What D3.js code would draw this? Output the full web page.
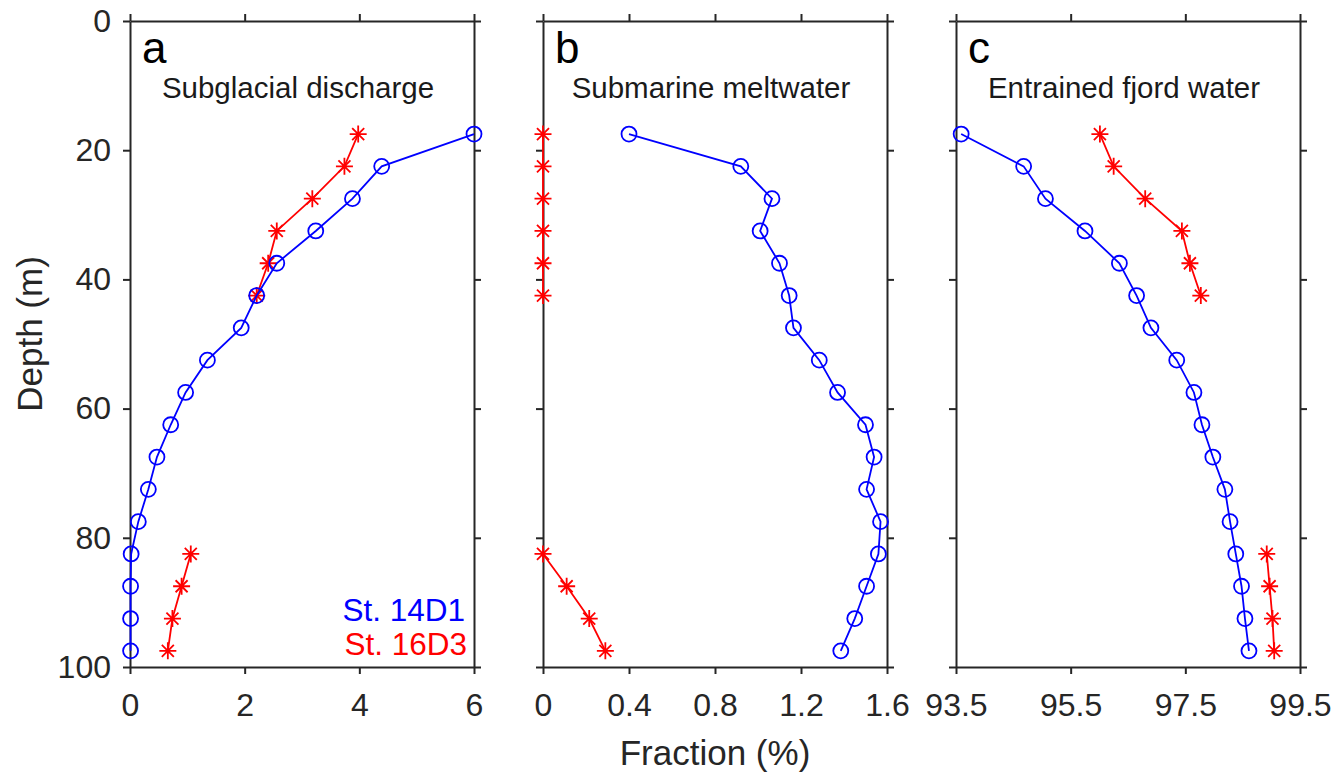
<!DOCTYPE html>
<html>
<head>
<meta charset="utf-8">
<script src="https://cdn.jsdelivr.net/npm/d3@7"></script>
<style>
  body { margin: 0; background: #fff; }
  svg { font-family: "Liberation Sans", Arial, sans-serif; }
</style>
</head>
<body>
<div class="dgraph"></div>
<script>
// depths of the bins (m)
var depth = [17.5, 22.5, 27.5, 32.5, 37.5, 42.5, 47.5, 52.5, 57.5, 62.5, 67.5, 72.5, 77.5, 82.5, 87.5, 92.5, 97.5];

// St. 14D1 (blue) and St. 16D3 (red), null = no sample
var sgd14 = [6.0, 4.39, 3.88, 3.24, 2.56, 2.21, 1.94, 1.35, 0.97, 0.71, 0.47, 0.32, 0.145, 0.02, 0.01, 0.01, 0.01];
var sgd16 = [3.98, 3.74, 3.18, 2.56, 2.41, 2.21, null, null, null, null, null, null, null, 1.06, 0.90, 0.74, 0.66];
var smw14 = [0.40, 0.92, 1.065, 1.01, 1.10, 1.145, 1.165, 1.285, 1.37, 1.50, 1.54, 1.505, 1.57, 1.56, 1.505, 1.45, 1.385];
var smw16 = [0, 0, 0, 0, 0, 0, null, null, null, null, null, null, null, 0, 0.11, 0.215, 0.29];
var efw14 = [93.59, 94.68, 95.06, 95.75, 96.35, 96.65, 96.90, 97.35, 97.65, 97.79, 97.98, 98.19, 98.28, 98.38, 98.48, 98.54, 98.61];
var efw16 = [96.01, 96.25, 96.80, 97.44, 97.58, 97.77, null, null, null, null, null, null, null, 98.92, 98.97, 99.02, 99.05];

var letters = ["a", "b", "c"];
var titles = ["Subglacial discharge", "Submarine meltwater", "Entrained fjord water"];
var xDomains = [[0, 6], [0, 1.6], [93.5, 99.5]];
var xTicks = [[0, 2, 4, 6], [0, 0.4, 0.8, 1.2, 1.6], [93.5, 95.5, 97.5, 99.5]];
var yTicks = [0, 20, 40, 60, 80, 100];
var stations = ["St. 14D1", "St. 16D3"];

var blue = "#0000ff", red = "#ff0000", axisCol = "#262626";

var width = 1334, height = 776;
var plotTop = 21, plotBottom = 667;
var lefts = [130, 543, 956], panelW = 344;

var svg = d3.select("body .dgraph").append("svg")
    .attr("width", width).attr("height", height);

var y = d3.scaleLinear().domain([0, 100]).range([plotTop, plotBottom]);

var series = [[sgd14, sgd16], [smw14, smw16], [efw14, efw16]];

// asterisk marker, 4 strokes
function star(g, cx, cy, r) {
    var d = r * 0.707;
    g.append("path")
        .attr("d", "M" + (cx - r) + "," + cy + "h" + (2 * r) +
                   "M" + cx + "," + (cy - r) + "v" + (2 * r) +
                   "M" + (cx - d) + "," + (cy - d) + "l" + (2 * d) + "," + (2 * d) +
                   "M" + (cx - d) + "," + (cy + d) + "l" + (2 * d) + "," + (-2 * d))
        .attr("stroke", red).attr("stroke-width", 1.8).attr("fill", "none");
}

for (var p = 0; p < 3; p++) {
    var x = d3.scaleLinear().domain(xDomains[p]).range([lefts[p], lefts[p] + panelW]);
    var g = svg.append("g");

    var axB = d3.axisBottom(x).tickValues(xTicks[p]).tickFormat(function(d){ return d; }).tickSizeInner(7).tickSizeOuter(0).tickPadding(19);
    var axT = d3.axisTop(x).tickValues(xTicks[p]).tickFormat("").tickSizeInner(7).tickSizeOuter(0);
    var axL = d3.axisLeft(y).tickValues(yTicks).tickSizeInner(7).tickSizeOuter(0).tickPadding(12);
    if (p > 0) axL.tickFormat("");
    var axR = d3.axisRight(y).tickValues(yTicks).tickFormat("").tickSizeInner(7).tickSizeOuter(0);

    g.append("g").attr("transform", "translate(0," + plotBottom + ")").call(axB);
    g.append("g").attr("transform", "translate(0," + plotTop + ")").call(axT);
    g.append("g").attr("transform", "translate(" + lefts[p] + ",0)").call(axL);
    g.append("g").attr("transform", "translate(" + (lefts[p] + panelW) + ",0)").call(axR);

    g.selectAll(".domain, .tick line").attr("stroke", axisCol).attr("stroke-width", 2);
    g.selectAll(".tick text").attr("fill", axisCol).style("font-size", "32px");

    // panel letter + title
    g.append("text").attr("x", lefts[p] + 12).attr("y", 63)
        .style("font-size", "44px").attr("fill", "#000").text(letters[p]);
    g.append("text").attr("x", lefts[p] + panelW / 2 - 4).attr("y", 98)
        .attr("text-anchor", "middle").style("font-size", "29.5px").attr("fill", "#1a1a1a").text(titles[p]);

    var line = d3.line()
        .defined(function(d){ return d[0] != null; })
        .x(function(d){ return x(d[0]); })
        .y(function(d){ return y(d[1]); });

    var s14 = series[p][0].map(function(v, i){ return [v, depth[i]]; });
    var s16 = series[p][1].map(function(v, i){ return [v, depth[i]]; });

    g.append("path").datum(s16).attr("d", line)
        .attr("fill", "none").attr("stroke", red).attr("stroke-width", 1.8);
    s16.filter(function(d){ return d[0] != null; }).forEach(function(d){
        star(g, x(d[0]), y(d[1]), 8.5);
    });

    g.append("path").datum(s14).attr("d", line)
        .attr("fill", "none").attr("stroke", blue).attr("stroke-width", 1.8);
    g.selectAll("circle.c14").data(s14).enter().append("circle")
        .attr("class", "c14")
        .attr("cx", function(d){ return x(d[0]); })
        .attr("cy", function(d){ return y(d[1]); })
        .attr("r", 7.5)
        .attr("fill", "none").attr("stroke", blue).attr("stroke-width", 1.8);
}

// legend text in panel a
svg.append("text").attr("x", 465).attr("y", 621).attr("text-anchor", "end")
    .style("font-size", "31.5px").attr("fill", blue).text(stations[0]);
svg.append("text").attr("x", 467).attr("y", 655).attr("text-anchor", "end")
    .style("font-size", "31.5px").attr("fill", red).text(stations[1]);

// axis labels
svg.append("text").attr("x", lefts[1] + panelW / 2).attr("y", 765)
    .attr("text-anchor", "middle").style("font-size", "35px").attr("fill", axisCol)
    .text("Fraction (%)");
svg.append("text").attr("transform", "translate(42," + ((plotTop + plotBottom) / 2 - 10) + ") rotate(-90)")
    .attr("text-anchor", "middle").style("font-size", "35px").attr("fill", axisCol)
    .text("Depth (m)");
</script>
</body>
</html>
